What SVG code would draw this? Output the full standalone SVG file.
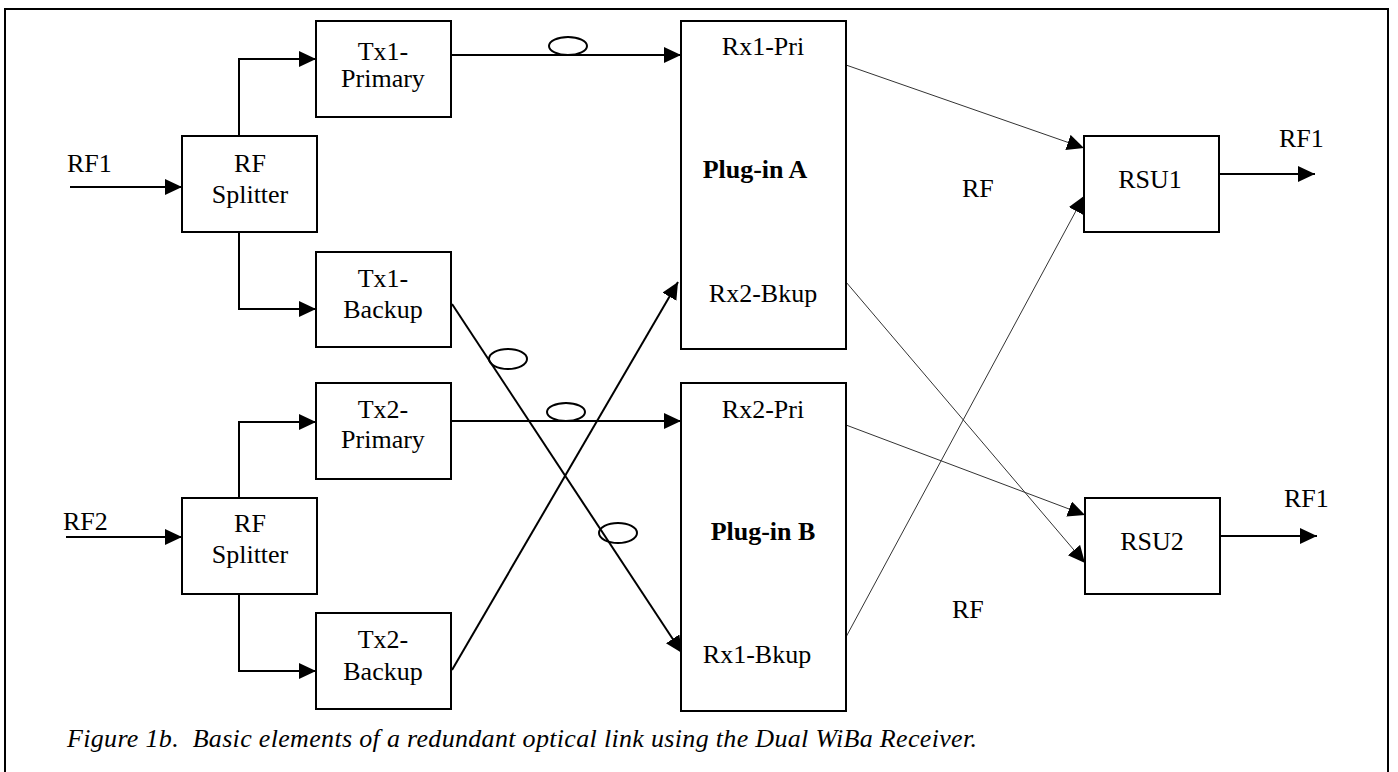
<svg xmlns="http://www.w3.org/2000/svg" width="1398" height="772" viewBox="0 0 1398 772">
<defs>
<style>
.box{fill:#fff;stroke:#000;stroke-width:2}
text{font-family:'Liberation Serif','Times New Roman',Tinos,'DejaVu Serif',serif;font-size:26px;fill:#000}
.t{text-anchor:middle}
.b{font-weight:bold}
.thick{fill:none;stroke:#000;stroke-width:2}
.thin{fill:none;stroke:#333;stroke-width:1}
.ell{fill:none;stroke:#000;stroke-width:2}
.cap{font-size:26px;font-style:italic}
</style>
<marker id="ah" markerUnits="userSpaceOnUse" markerWidth="18" markerHeight="18" refX="17" refY="8" orient="auto" viewBox="0 0 18 18">
<path d="M0,0 L17,8 L0,16 z" fill="#000"/>
</marker>
</defs>
<rect x="5" y="9" width="1383" height="770" fill="#fff" stroke="#000" stroke-width="2"/>

<g id="connectors">
<path class="thick" d="M70,187 H182" marker-end="url(#ah)"/>
<path class="thick" d="M239,136 V59 H316" marker-end="url(#ah)"/>
<path class="thick" d="M239,232 V309 H316" marker-end="url(#ah)"/>
<path class="thick" d="M66,537 H182" marker-end="url(#ah)"/>
<path class="thick" d="M239,498 V422 H316" marker-end="url(#ah)"/>
<path class="thick" d="M239,594 V671 H316" marker-end="url(#ah)"/>
<path class="thick" d="M451,55 H681" marker-end="url(#ah)"/>
<path class="thick" d="M451,421 H681" marker-end="url(#ah)"/>
<path class="thick" d="M452,304 L682,653" marker-end="url(#ah)"/>
<path class="thick" d="M452,670 L678,282" marker-end="url(#ah)"/>
<path class="thin" d="M846,65 L1084,148" marker-end="url(#ah)"/>
<path class="thin" d="M846,282 L1085,563" marker-end="url(#ah)"/>
<path class="thin" d="M846,425 L1085,515" marker-end="url(#ah)"/>
<path class="thin" d="M846,637 L1084,196" marker-end="url(#ah)"/>
<path class="thick" d="M1219,174 H1315" marker-end="url(#ah)"/>
<path class="thick" d="M1220,536 H1317" marker-end="url(#ah)"/>
<ellipse class="ell" cx="568" cy="46" rx="19" ry="9"/>
<ellipse class="ell" cx="508" cy="359" rx="19" ry="10"/>
<ellipse class="ell" cx="566" cy="412" rx="19" ry="9"/>
<ellipse class="ell" cx="618" cy="533" rx="19" ry="10"/>
</g>

<g id="tx1-primary"><rect class="box" x="316" y="21" width="135" height="96"/><text class="t" x="383" y="60">Tx1-</text><text class="t" x="383" y="87">Primary</text></g>
<g id="splitter1"><rect class="box" x="182" y="136" width="135" height="96"/><text class="t" x="250" y="172">RF</text><text class="t" x="250" y="203">Splitter</text></g>
<g id="tx1-backup"><rect class="box" x="316" y="252" width="135" height="95"/><text class="t" x="383" y="287">Tx1-</text><text class="t" x="383" y="318">Backup</text></g>
<g id="tx2-primary"><rect class="box" x="316" y="383" width="135" height="96"/><text class="t" x="383" y="418">Tx2-</text><text class="t" x="383" y="448">Primary</text></g>
<g id="splitter2"><rect class="box" x="182" y="498" width="135" height="96"/><text class="t" x="250" y="532">RF</text><text class="t" x="250" y="563">Splitter</text></g>
<g id="tx2-backup"><rect class="box" x="316" y="613" width="135" height="96"/><text class="t" x="383" y="648">Tx2-</text><text class="t" x="383" y="680">Backup</text></g>
<g id="plugin-a"><rect class="box" x="681" y="21" width="165" height="328"/><text class="t" x="763" y="55">Rx1-Pri</text><text class="t b" x="755" y="178">Plug-in A</text><text class="t" x="763" y="302">Rx2-Bkup</text></g>
<g id="plugin-b"><rect class="box" x="681" y="383" width="165" height="328"/><text class="t" x="763" y="418">Rx2-Pri</text><text class="t b" x="763" y="540">Plug-in B</text><text class="t" x="757" y="663">Rx1-Bkup</text></g>
<g id="rsu1"><rect class="box" x="1084" y="136" width="135" height="96"/><text class="t" x="1150" y="188">RSU1</text></g>
<g id="rsu2"><rect class="box" x="1085" y="498" width="135" height="96"/><text class="t" x="1152" y="550">RSU2</text></g>

<g id="labels">
<text x="67" y="172">RF1</text>
<text x="63" y="530">RF2</text>
<text x="1279" y="147">RF1</text>
<text x="1284" y="507">RF1</text>
<text x="962" y="197">RF</text>
<text x="952" y="618">RF</text>
<text class="cap" x="67" y="747" textLength="910" xml:space="preserve">Figure 1b.  Basic elements of a redundant optical link using the Dual WiBa Receiver.</text>
</g>
</svg>
